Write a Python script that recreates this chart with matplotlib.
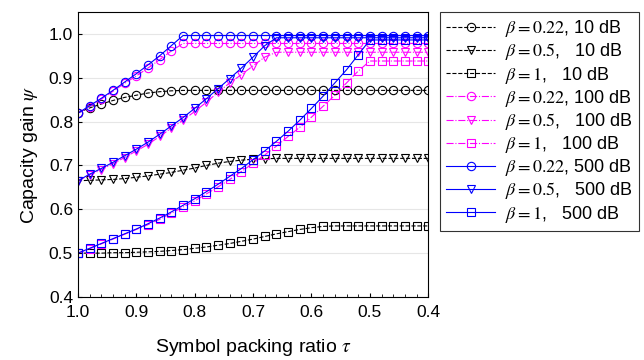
import matplotlib
matplotlib.use("Agg")
import matplotlib.pyplot as plt
import numpy as np
from matplotlib.ticker import MultipleLocator

plt.rcParams['font.family'] = ['Liberation Sans', 'DejaVu Sans']
plt.rcParams['mathtext.fontset'] = 'stix'

# symbol packing ratio, 1.0 down to 0.4 in steps of 0.02
tau = [1.00, 0.98, 0.96, 0.94, 0.92, 0.90, 0.88, 0.86, 0.84, 0.82, 0.80,
       0.78, 0.76, 0.74, 0.72, 0.70, 0.68, 0.66, 0.64, 0.62, 0.60,
       0.58, 0.56, 0.54, 0.52, 0.50, 0.48, 0.46, 0.44, 0.42, 0.40]

# 10 dB
b022_10 = [0.820, 0.831, 0.840, 0.848, 0.855, 0.860, 0.865, 0.868, 0.870, 0.871] + [0.871] * 21
b05_10 = [0.665, 0.666, 0.667, 0.668, 0.670, 0.673, 0.676, 0.680, 0.684, 0.689,
          0.694, 0.700, 0.705, 0.709, 0.712, 0.714, 0.715] + [0.716] * 14
b1_10 = [0.500, 0.500, 0.500, 0.501, 0.501, 0.502, 0.503, 0.504, 0.506, 0.508,
         0.511, 0.514, 0.518, 0.522, 0.527, 0.532, 0.538, 0.544, 0.549, 0.554,
         0.558, 0.561] + [0.562] * 9

# 100 dB
b022_100 = [0.819, 0.834, 0.851, 0.869, 0.887, 0.904, 0.922, 0.941, 0.961, 0.978] + [0.978] * 21
b05_100 = [0.665, 0.678, 0.690, 0.704, 0.718, 0.733, 0.748, 0.766, 0.785, 0.803,
           0.823, 0.844, 0.867, 0.888, 0.907, 0.927, 0.947, 0.958] + [0.958] * 13
b1_100 = [0.500, 0.510, 0.521, 0.532, 0.543, 0.554, 0.565, 0.577, 0.591, 0.605,
          0.619, 0.635, 0.651, 0.668, 0.686, 0.705, 0.724, 0.744, 0.766, 0.787,
          0.810, 0.835, 0.860, 0.888, 0.915, 0.938] + [0.938] * 5

# 500 dB
b022_500 = [0.819, 0.836, 0.853, 0.871, 0.890, 0.909, 0.929, 0.950, 0.973, 0.996] + [0.996] * 21
b05_500 = [0.665, 0.680, 0.693, 0.707, 0.722, 0.737, 0.753, 0.771, 0.790, 0.809,
           0.830, 0.852, 0.875, 0.898, 0.922, 0.947, 0.973, 0.991] + [0.991] * 13
b1_500 = [0.500, 0.511, 0.522, 0.533, 0.544, 0.555, 0.567, 0.580, 0.594, 0.609,
          0.624, 0.640, 0.657, 0.675, 0.693, 0.713, 0.733, 0.755, 0.778, 0.803,
          0.830, 0.858, 0.888, 0.918, 0.952, 0.986] + [0.986] * 5

series = [
    (b022_10, r'$\beta = 0.22$, 10 dB', 'black', '--', 'o'),
    (b05_10, r'$\beta = 0.5$,   10 dB', 'black', '--', 'v'),
    (b1_10, r'$\beta = 1$,   10 dB', 'black', '--', 's'),
    (b022_100, r'$\beta = 0.22$, 100 dB', '#ff00ff', '-.', 'o'),
    (b05_100, r'$\beta = 0.5$,   100 dB', '#ff00ff', '-.', 'v'),
    (b1_100, r'$\beta = 1$,   100 dB', '#ff00ff', '-.', 's'),
    (b022_500, r'$\beta = 0.22$, 500 dB', '#0000ff', '-', 'o'),
    (b05_500, r'$\beta = 0.5$,   500 dB', '#0000ff', '-', 'v'),
    (b1_500, r'$\beta = 1$,   500 dB', '#0000ff', '-', 's'),
]

fig = plt.figure(figsize=(6.44, 3.6), dpi=100)
ax = fig.add_axes([0.121, 0.175, 0.544, 0.792])

for vals, label, color, ls, marker in series:
    ax.plot(tau, vals, color=color, linestyle=ls, linewidth=0.8,
            marker=marker, markersize=6, markerfacecolor='none',
            markeredgewidth=0.8, label=label)

ax.set_xlim(1.0, 0.4)
ax.set_ylim(0.4, 1.05)
ax.set_xticks([1.0, 0.9, 0.8, 0.7, 0.6, 0.5, 0.4])
ax.set_yticks([0.4, 0.5, 0.6, 0.7, 0.8, 0.9, 1.0])
ax.xaxis.set_minor_locator(MultipleLocator(0.02))
ax.tick_params(direction='in', labelsize=12.5, length=3)
ax.tick_params(which='minor', direction='in', length=2)
ax.tick_params(axis='x', pad=6)
ax.yaxis.grid(True, color='#e6e6e6', linewidth=0.8)
ax.set_axisbelow(True)
for sp in ax.spines.values():
    sp.set_linewidth(0.8)

ax.set_xlabel(r'Symbol packing ratio $\tau$', fontsize=14, labelpad=12)
ax.set_ylabel(r'Capacity gain $\psi$', fontsize=14, labelpad=6)

leg = fig.legend(loc='upper left', bbox_to_anchor=(0.683, 0.967), fontsize=13,
                 frameon=True, fancybox=False, edgecolor='black', handlelength=2.7,
                 labelspacing=0.12, borderpad=0.35, handletextpad=0.55,
                 borderaxespad=0)
leg.get_frame().set_linewidth(0.8)

fig.savefig('out.png', dpi=100)
